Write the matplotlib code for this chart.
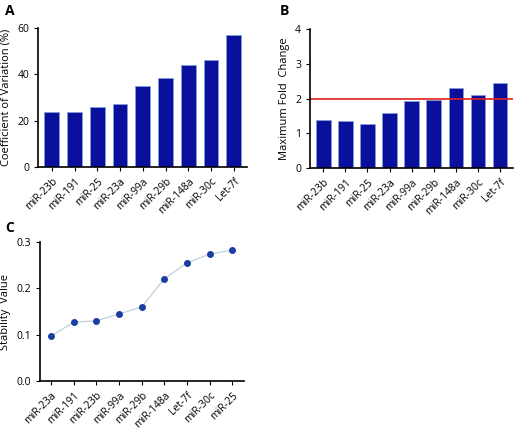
import matplotlib
matplotlib.use("Agg")
import matplotlib.pyplot as plt

plt.rcParams['font.family'] = ['Open Sans', 'DejaVu Sans']

cats_ab = ["miR-23b", "miR-191", "miR-25", "miR-23a", "miR-99a", "miR-29b", "miR-148a", "miR-30c", "Let-7f"]
cv = [23.5, 23.8, 26, 27, 35, 38.5, 44, 46, 57]
fold = [1.4, 1.36, 1.28, 1.6, 1.93, 1.96, 2.3, 2.1, 2.46]
cats_c = ["miR-23a", "miR-191", "miR-23b", "miR-99a", "miR-29b", "miR-148a", "Let-7f", "miR-30c", "miR-25"]
stab = [0.097, 0.127, 0.130, 0.145, 0.160, 0.221, 0.255, 0.274, 0.283]

fig = plt.figure(figsize=(5.23, 4.30), dpi=100)
blue = '#0a0f9c'

def style(ax):
    for s in ['top', 'right']:
        ax.spines[s].set_visible(False)
    ax.tick_params(labelsize=7.5, length=3)
    ax.spines['left'].set_linewidth(1.2)
    ax.spines['bottom'].set_linewidth(1.2)

axA = fig.add_axes([0.073, 0.612, 0.40, 0.323])
x = range(len(cats_ab))
axA.bar(x, cv, width=0.65, color=blue, edgecolor='#7fa0d8', linewidth=0.5)
axA.set_ylim(0, 60); axA.set_yticks([0, 20, 40, 60])
axA.set_xlim(-0.6, 8.6)
axA.set_xticks(list(x)); axA.set_xticklabels(cats_ab, rotation=45, ha='right', rotation_mode='anchor')
axA.set_ylabel("Coefficient of Variation (%)", fontsize=8)
style(axA)
fig.text(0.01, 0.965, "A", fontsize=10, fontweight='bold')

axB = fig.add_axes([0.593, 0.609, 0.388, 0.323])
axB.bar(x, fold, width=0.65, color=blue, edgecolor='#7fa0d8', linewidth=0.5)
axB.axhline(2, color='#e0201c', linewidth=1.2)
axB.set_ylim(0, 4); axB.set_yticks([0, 1, 2, 3, 4])
axB.set_xlim(-0.6, 8.6)
axB.set_xticks(list(x)); axB.set_xticklabels(cats_ab, rotation=45, ha='right', rotation_mode='anchor')
axB.set_ylabel("Maximum Fold  Change", fontsize=8)
style(axB)
fig.text(0.535, 0.965, "B", fontsize=10, fontweight='bold')

axC = fig.add_axes([0.076, 0.114, 0.39, 0.323])
xc = range(len(cats_c))
axC.plot(xc, stab, color='#c8d4e0', linewidth=1, marker='o', markersize=4,
         markerfacecolor='#1a3fa0', markeredgecolor='#1a3fa0')
axC.set_ylim(0, 0.3); axC.set_yticks([0.0, 0.1, 0.2, 0.3])
axC.set_xlim(-0.5, 8.5)
axC.set_xticks(list(xc)); axC.set_xticklabels(cats_c, rotation=45, ha='right', rotation_mode='anchor')
axC.set_ylabel("Stability  Value", fontsize=8)
style(axC)
fig.text(0.01, 0.46, "C", fontsize=10, fontweight='bold')

fig.savefig("out.png", dpi=100)
